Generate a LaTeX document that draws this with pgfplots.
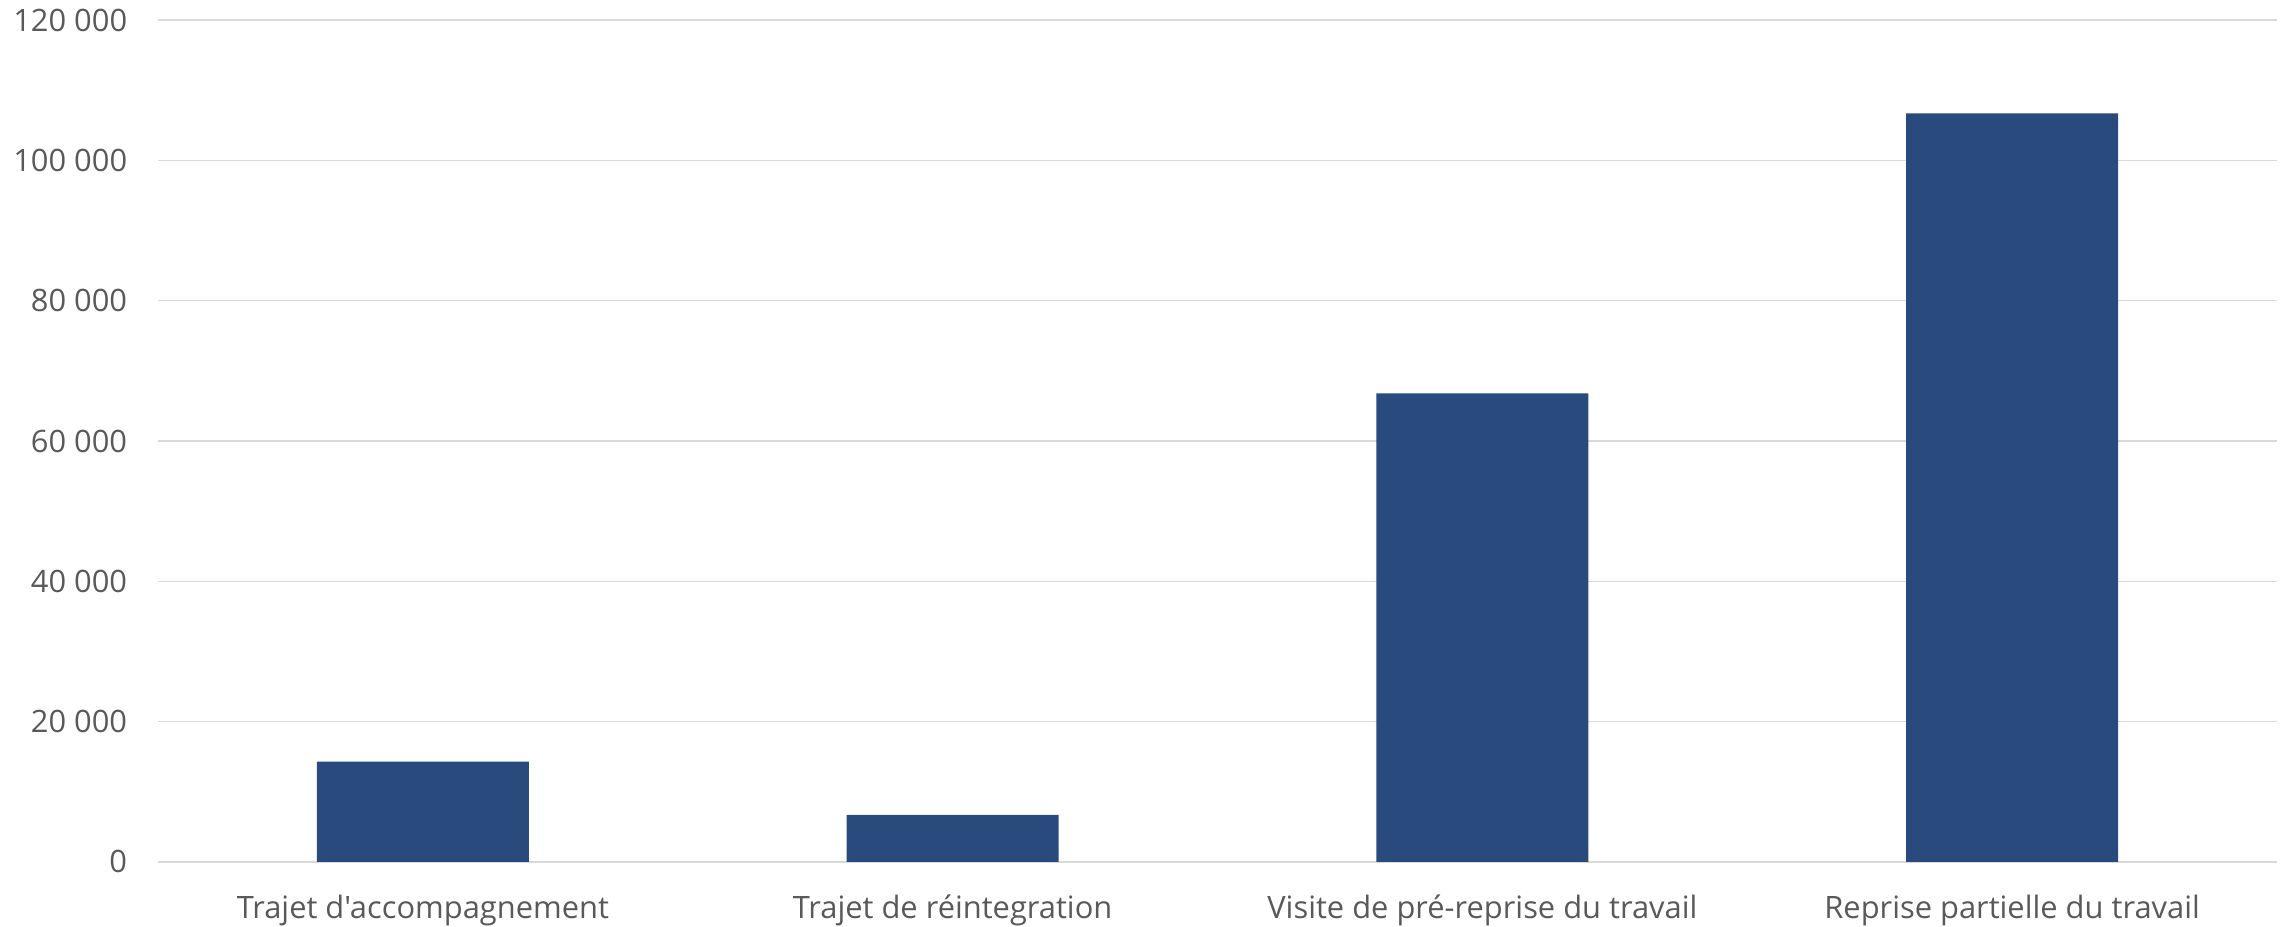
\documentclass[border=0pt]{standalone}
\usepackage{pgfplots}
\pgfplotsset{compat=1.18}
\usepackage{fontspec}
\setmainfont{Open Sans}[Ligatures=TeXOff]
\definecolor{barblue}{HTML}{294A7C}
\definecolor{labelgray}{HTML}{595959}
\definecolor{gridgray}{HTML}{D9D9D9}
\begin{document}
\begin{tikzpicture}
\begin{axis}[
  at={(0,0)}, anchor=south west,
  scale only axis,
  width=741.7pt, height=294.7pt,
  xmin=-0.5, xmax=3.5,
  ymin=0, ymax=120000,
  scaled y ticks=false,
  ytick={0,20000,40000,60000,80000,100000,120000},
  yticklabels={0,20 000,40 000,60 000,80 000,100 000,120 000},
  xtick={0,1,2,3},
  xticklabels={Trajet d'accompagnement,Trajet de réintegration,Visite de pré-reprise du travail,Reprise partielle du travail},
  ymajorgrids,
  major grid style={draw=gridgray, line width=0.55pt},
  axis line style={draw=none},
  major tick length=0pt,
  tick label style={font=\fontsize{10.8}{13}\selectfont, text=labelgray},
  yticklabel style={inner sep=0pt, xshift=-10.6pt},
  xticklabel style={yshift=-8pt},
  clip=false,
]
\addplot[ybar, bar width=0.4, fill=barblue, draw=none] coordinates {
  (0,14300) (1,6700) (2,66800) (3,106700)
};
\end{axis}
\pgfresetboundingbox
\useasboundingbox (-55.3pt,-22.75pt) rectangle (744.5pt,301.7pt);
\end{tikzpicture}
\end{document}
